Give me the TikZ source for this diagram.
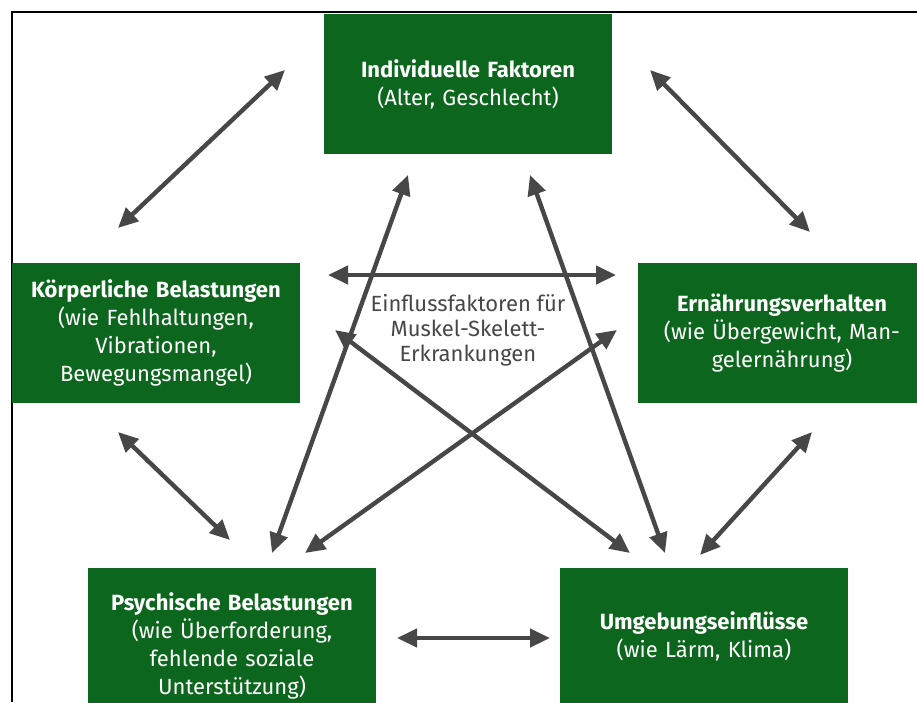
\documentclass[tikz,border=0pt]{standalone}
\usepackage{fontspec}
\setmainfont{Fira Sans}
\usetikzlibrary{arrows.meta}
\definecolor{boxgreen}{HTML}{0D661D}
\definecolor{arrowgray}{HTML}{474747}
\tikzstyle{factor} = [rectangle, fill=boxgreen, text=white, minimum width=288pt,
minimum height=140pt, text width=280pt, align=center,
font=\fontsize{22}{28}\selectfont]
\tikzstyle{centertext} = [text=arrowgray, align=center,
font=\fontsize{22}{25}\selectfont]
\tikzstyle{arrow} = [line width=4.4pt, draw=arrowgray,
{Triangle[length=20pt,width=18pt]}-{Triangle[length=20pt,width=18pt]}]

\begin{document}
\begin{tikzpicture}[x=1pt,y=-1pt]
\useasboundingbox (0,0) rectangle (917,702);
\clip (0,0) rectangle (917,702);
\fill[white] (0,0) rectangle (917,702);
\draw[line width=1.2pt] (12,702) -- (12,12) -- (917,12);
%Placing the boxes
\node (indiv) [factor] at (468,84) {\textbf{Individuelle Faktoren}\\(Alter, Geschlecht)};
\node (koerper) [factor] at (156,333) {\textbf{Körperliche Belastungen}\\(wie Fehlhaltungen,\\Vibrationen,\\Bewegungsmangel)};
\node (ernaehr) [factor] at (782,333) {\textbf{Ernährungsverhalten}\\(wie Übergewicht, Man-\\gelernährung)};
\node (psych) [factor, minimum height=156pt] at (232,646) {\textbf{Psychische Belastungen}\\(wie Überforderung,\\fehlende soziale\\Unterstützung)};
\node (umgeb) [factor, minimum height=136pt] at (704,636) {\textbf{Umgebungseinflüsse}\\(wie Lärm, Klima)};
\node (mitte) [centertext] at (468,330) {Einflussfaktoren für\\Muskel-Skelett-\\Erkrankungen};
%Arrow ends
\coordinate (indivL) at (285,70);
\coordinate (koerperT) at (118,228);
\coordinate (indivR) at (650,70);
\coordinate (ernaehrT) at (810,232);
\coordinate (indivBL) at (408,175);
\coordinate (psychTR) at (272,553);
\coordinate (indivBR) at (530,175);
\coordinate (umgebTL) at (665,553);
\coordinate (koerperR) at (328,275);
\coordinate (ernaehrL) at (616,275);
\coordinate (koerperRL) at (335,330);
\coordinate (umgebT) at (630,553);
\coordinate (ernaehrLL) at (617,330);
\coordinate (psychT) at (305,553);
\coordinate (koerperB) at (118,432);
\coordinate (psychTL) at (230,540);
\coordinate (ernaehrB) at (812,432);
\coordinate (umgebTR) at (700,555);
\coordinate (psychR) at (397,638);
\coordinate (umgebL) at (550,638);
%Drawing the arrows
\draw[arrow] (indivL) -- (koerperT);
\draw[arrow] (indivR) -- (ernaehrT);
\draw[arrow] (indivBL) -- (psychTR);
\draw[arrow] (indivBR) -- (umgebTL);
\draw[arrow] (koerperR) -- (ernaehrL);
\draw[arrow] (koerperRL) -- (umgebT);
\draw[arrow] (ernaehrLL) -- (psychT);
\draw[arrow] (koerperB) -- (psychTL);
\draw[arrow] (ernaehrB) -- (umgebTR);
\draw[arrow] (psychR) -- (umgebL);
\end{tikzpicture}
\end{document}
